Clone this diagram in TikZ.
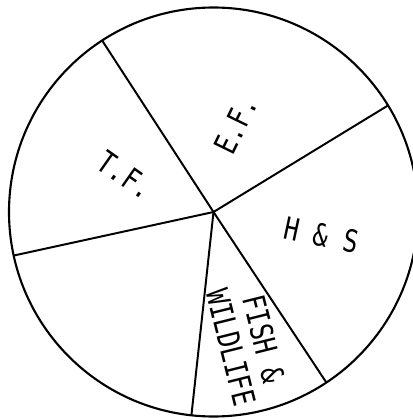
\documentclass[tikz,border=0pt]{standalone}
\usepackage{fontspec}
\usepackage{graphicx}
\newfontfamily\letterfont{DejaVu Sans Mono}
\newcommand{\narrowtxt}[1]{\scalebox{0.8}[1]{#1}}
\usetikzlibrary{calc}

\begin{document}
\begin{tikzpicture}[
  x=0.025cm, y=0.025cm,
  rim/.style={line width=1.5pt, draw=black},
  spoke/.style={line width=1.4pt, draw=black},
  slicelabel/.style={font=\letterfont\fontsize{22}{24}\selectfont, inner sep=0pt, align=center}
]
\useasboundingbox (-213.5,-208) rectangle (199.5,212);
\clip (-213.5,-208) rectangle (199.5,212);

% wheel
\coordinate (hub) at (0,0);
\draw[rim] (hub) circle (204.5);

% --- spokes ---
\foreach \ang/\nm in {123/tl, 31.4/tr, -56.5/br, -96.2/bt, 192.3/lf}{
  \coordinate (\nm) at (\ang:204.5);
  \draw[spoke] (hub) -- (\nm);
}

% slice labels
\node[slicelabel, rotate=64] (ef) at (22,87) {\narrowtxt{E.F.}};
\node[slicelabel, rotate=-35] (tf) at (-88,37) {\narrowtxt{T.F.}};
\node[slicelabel, rotate=-12] (hs) at (108,-23) {\narrowtxt{H \& S}};
\node[slicelabel, rotate=-76] (fw) at (34,-131) {\narrowtxt{FISH \&}\\\narrowtxt{WILDLIFE}};

\end{tikzpicture}
\end{document}
